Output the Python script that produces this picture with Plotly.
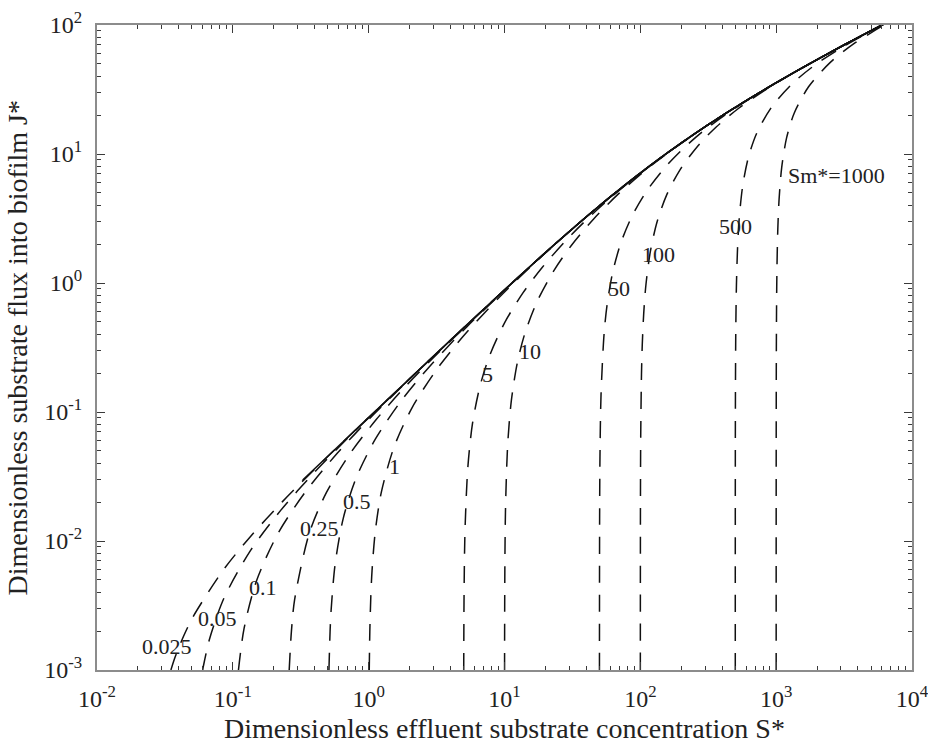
import math
import plotly.graph_objects as go

# Limiting (upper) curve, J* vs S*
envelope_x = [0.327, 0.542, 0.86, 1.377, 2.08, 3.044, 4.848, 7.315, 10.27, 15.43, 23.48,
              34.48, 48.99, 78.23, 125.2, 203, 320.3, 542.6, 944.6, 1688, 3206, 4893.5, 6548]
envelope_y = [0.0297, 0.0492, 0.078, 0.1247, 0.188, 0.2744, 0.4348, 0.6515, 0.9072, 1.3427, 1.998,
              2.8475, 3.899, 5.823, 8.519, 12.297, 17.029, 24.261, 34.456, 48.845, 70.6, 89.35, 104.8]

# One curve per Sm* value (S*, J* pairs); each joins the limiting curve at its upper end
sm_0025_x = [0.035, 0.0376, 0.0432, 0.0513, 0.0865, 0.135, 0.232, 0.322, 0.522, 1.067]
sm_0025_y = [0.001, 0.00126, 0.00181, 0.00262, 0.0061, 0.01085, 0.0202, 0.0287, 0.0472, 0.0967]

sm_005_x = [0.06, 0.0607, 0.0673, 0.0858, 0.134, 0.225, 0.400, 0.71, 1.027, 1.57]
sm_005_y = [0.001, 0.00107, 0.00173, 0.00358, 0.00834, 0.01727, 0.03423, 0.0635, 0.0927, 0.142]

sm_01_x = [0.11, 0.121, 0.149, 0.214, 0.336, 0.589, 1.078, 1.992, 3.956]
sm_01_y = [0.001, 0.0021, 0.00488, 0.01134, 0.0234, 0.0481, 0.0948, 0.1792, 0.3556]

sm_025_x = [0.26, 0.27, 0.285, 0.366, 0.488, 0.723, 1.137, 1.82, 3.22, 6.85]
sm_025_y = [0.001, 0.002, 0.00351, 0.01156, 0.0237, 0.0469, 0.0874, 0.1536, 0.2845, 0.6096]

sm_05_x = [0.51, 0.52, 0.529, 0.566, 0.65, 0.805, 1.122, 1.73, 2.80, 5.25, 10.32]
sm_05_y = [0.001, 0.002, 0.00289, 0.00658, 0.01499, 0.03044, 0.0618, 0.1215, 0.2246, 0.455, 0.9074]

sm_1_x = [1.01, 1.02, 1.037, 1.0587, 1.118, 1.2375, 1.536, 2.08, 3.12, 4.93, 9.12, 17.6, 34.4]
sm_1_y = [0.001, 0.002, 0.0037, 0.00587, 0.0118, 0.02371, 0.05335, 0.1072, 0.2087, 0.3829,
          0.7717, 1.511, 2.8424]

sm_5_x = [5.01, 5.039, 5.12, 5.37, 5.81, 6.61, 7.76, 10.01, 13.71, 18.94, 28.4, 43.7, 76.9, 155.9]
sm_5_y = [0.001, 0.00391, 0.01203, 0.037, 0.0812, 0.1596, 0.2726, 0.4911, 0.8412, 1.319,
          2.1436, 3.366, 5.691, 10.09]

sm_10_x = [10.01, 10.06, 10.18, 10.56, 11.23, 12.41, 14.13, 17.5, 23.04, 30.94, 45.5, 69.3,
           122.7, 255]
sm_10_y = [0.001, 0.006048, 0.01843, 0.05618, 0.1224, 0.2393, 0.407, 0.7296, 1.2438, 1.944,
           3.149, 4.926, 8.273, 14.497]

sm_50_x = [50.01, 50.15, 50.45, 51.36, 54.14, 57.08, 62.85, 72.4, 87.5, 112.2, 156.5, 213.8,
           307.8, 539.6, 1198]
sm_50_y = [0.001, 0.01491, 0.045, 0.1357, 0.4094, 0.6932, 1.235, 2.0906, 3.3507, 5.221, 8.151,
           11.384, 15.777, 23.958, 39.82]

sm_100_x = [100.01, 100.21, 100.65, 101.96, 103.3, 105.97, 110.2, 118.65, 132.9, 155.8, 194.4,
            266, 361.9, 524.2, 940, 2164]
sm_100_y = [0.001, 0.02148, 0.0647, 0.1948, 0.3296, 0.5869, 0.9918, 1.7647, 2.986, 4.782, 7.441,
            11.6, 16.19, 22.42, 33.998, 56.415]

sm_500_x = [500.01, 500.05, 500.49, 501.47, 504.47, 509.8, 519.5, 534.2, 565.5, 624, 721, 934.5,
            1364, 2003.7, 3189.6, 5444, 6546]
sm_500_y = [0.001, 0.0054, 0.04887, 0.1469, 0.4419, 0.953, 1.8484, 3.1247, 5.555, 9.4, 14.6,
            23.447, 36.41, 50.37, 68.96, 94.42, 104.6]

sm_1000_x = [1000.01, 1000.08, 1000.7, 1002.1, 1006.4, 1014, 1028.2, 1050.3, 1098.7, 1193,
             1356.8, 1732, 2515, 3713, 5976, 7079]
sm_1000_y = [0.001, 0.00767, 0.0693, 0.2081, 0.626, 1.351, 2.62, 4.427, 7.873, 13.32, 20.68,
             33.19, 51.53, 71.28, 97.59, 107.9]

curves = [
    (sm_0025_x, sm_0025_y), (sm_005_x, sm_005_y), (sm_01_x, sm_01_y), (sm_025_x, sm_025_y),
    (sm_05_x, sm_05_y), (sm_1_x, sm_1_y), (sm_5_x, sm_5_y), (sm_10_x, sm_10_y),
    (sm_50_x, sm_50_y), (sm_100_x, sm_100_y), (sm_500_x, sm_500_y), (sm_1000_x, sm_1000_y),
]

curve_labels = ["0.025", "0.05", "0.1", "0.25", "0.5", "1", "5", "10", "50", "100", "500",
                "Sm*=1000"]
label_x = [0.0328, 0.0771, 0.167, 0.431, 0.822, 1.56, 7.45, 15.4, 69.8, 137, 500, 2767]
label_y = [0.00153, 0.00252, 0.00433, 0.0124, 0.0204, 0.0375, 0.194, 0.297, 0.90, 1.65, 2.72, 6.77]

x_decades = [-2, -1, 0, 1, 2, 3, 4]
y_decades = [-3, -2, -1, 0, 1, 2]
minor_mult = [2, 3, 4, 5, 6, 7, 8, 9]

FONT = "Liberation Serif, Times New Roman, serif"
INK = "#111111"
TEXT = "#222222"
FRAME = "#8c8c8c"
TICK = "#3a3a3a"


def power_label(e):
    return "10<sup>%d</sup>" % e


fig = go.Figure()

for cx, cy in curves:
    tail = [(ex, ey) for ex, ey in zip(envelope_x, envelope_y) if ex > cx[-1] * 1.15]
    xs = list(cx) + [t[0] for t in tail]
    ys = list(cy) + [t[1] for t in tail]
    fig.add_trace(go.Scatter(
        x=xs, y=ys, mode="lines",
        line=dict(color=INK, width=1.5, dash="17px,12px", shape="spline", smoothing=0.8),
        hoverinfo="skip", showlegend=False,
    ))

fig.add_trace(go.Scatter(
    x=envelope_x, y=envelope_y, mode="lines",
    line=dict(color=INK, width=1.6, shape="spline", smoothing=0.8),
    hoverinfo="skip", showlegend=False,
))

# empty traces so that the minor-tick overlay axes are laid out
for xa, ya in (("x2", "y2"), ("x3", "y3")):
    fig.add_trace(go.Scatter(x=[], y=[], xaxis=xa, yaxis=ya, showlegend=False, hoverinfo="skip"))

for txt, lx, ly in zip(curve_labels, label_x, label_y):
    fig.add_annotation(x=math.log10(lx), y=math.log10(ly), xref="x", yref="y", text=txt,
                       showarrow=False, font=dict(family=FONT, size=22, color=TEXT),
                       xanchor="center", yanchor="middle")

x_major = [10.0 ** e for e in x_decades]
y_major = [10.0 ** e for e in y_decades]
x_minor = [m * 10.0 ** e for e in x_decades[:-1] for m in minor_mult]
y_minor = [m * 10.0 ** e for e in y_decades[:-1] for m in minor_mult]

major_common = dict(
    type="log", showgrid=False, zeroline=False, automargin=False,
    showline=True, linecolor=FRAME, linewidth=2, mirror="ticks",
    ticks="inside", ticklen=8, tickwidth=1, tickcolor=TICK,
    tickfont=dict(family=FONT, size=24, color=TEXT), ticklabeloverflow="allow",
)
minor_common = dict(
    type="log", showgrid=False, zeroline=False, automargin=False, showline=False,
    ticks="inside", ticklen=4, tickwidth=1, tickcolor=TICK, showticklabels=False,
)

fig.update_layout(
    width=928, height=746,
    margin=dict(l=97, r=16, t=25, b=76),
    paper_bgcolor="white", plot_bgcolor="white",
    xaxis=dict(range=[-2, 4], tickvals=x_major, ticktext=[power_label(e) for e in x_decades],
               ticklabelstandoff=6, **major_common),
    yaxis=dict(range=[-3, 2], tickvals=y_major, ticktext=[power_label(e) for e in y_decades],
               ticklabelstandoff=8, **major_common),
    xaxis2=dict(range=[-2, 4], tickvals=x_minor, overlaying="x", side="bottom", anchor="y2",
                **minor_common),
    yaxis2=dict(range=[-3, 2], tickvals=y_minor, overlaying="y", side="left", anchor="x2",
                **minor_common),
    xaxis3=dict(range=[-2, 4], tickvals=x_minor, overlaying="x", side="top", anchor="y3",
                **minor_common),
    yaxis3=dict(range=[-3, 2], tickvals=y_minor, overlaying="y", side="right", anchor="x3",
                **minor_common),
    showlegend=False,
)

fig.add_annotation(xref="paper", yref="paper", x=0.5, y=-0.09, yanchor="middle",
                   text="Dimensionless effluent substrate concentration S*", showarrow=False,
                   font=dict(family=FONT, size=28, color=TEXT))
fig.add_annotation(xref="paper", yref="paper", x=-0.097, y=0.5, xanchor="center",
                   yanchor="middle", text="Dimensionless substrate flux into biofilm J*",
                   showarrow=False, textangle=-90, font=dict(family=FONT, size=28, color=TEXT))

fig.write_html("out.html")
